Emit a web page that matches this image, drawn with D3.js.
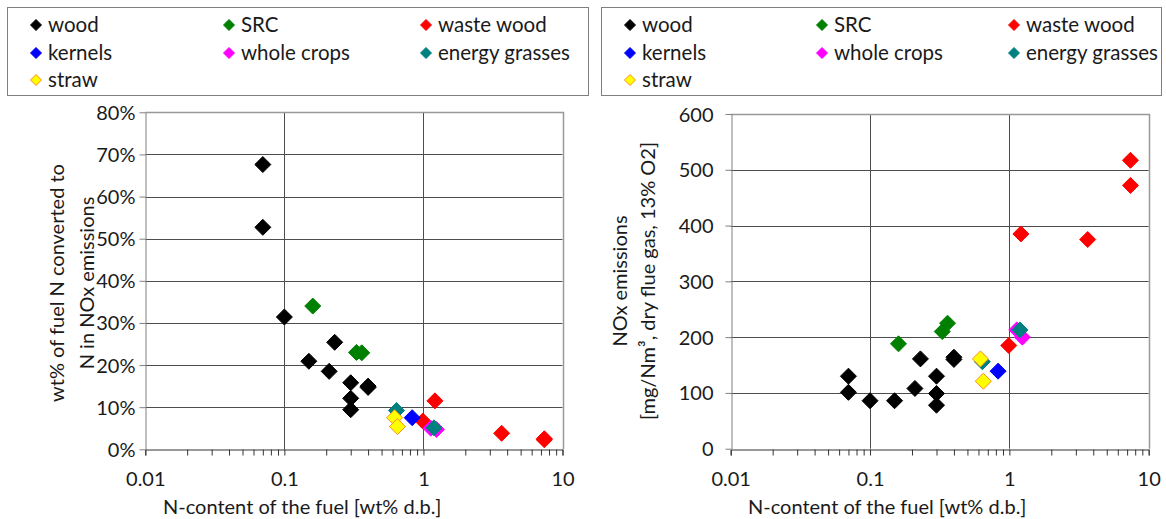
<!DOCTYPE html>
<html><head><meta charset="utf-8">
<script src="https://cdn.jsdelivr.net/npm/d3@7/dist/d3.min.js"></script>
<style>body{margin:0;background:#fff}svg{display:block;font-family:Lato,"Open Sans",sans-serif}</style>
</head><body><svg id="c" width="1166" height="519"></svg>
<script>
// ---------- data ----------
const seriesNames = ["wood","SRC","waste wood","kernels","whole crops","energy grasses","straw"];
const seriesFill  = ["#000000","#008000","#ff0000","#0000ff","#ff00ff","#008080","#ffff00"];
const seriesStroke= ["#000000","#008000","#ff0000","#0000ff","#ff00ff","#008080","#ff8c1a"];

const woodN    = [0.07, 0.07, 0.1, 0.15, 0.21, 0.23, 0.3, 0.3, 0.3, 0.4, 0.4];
const woodConv = [67.6, 52.7, 31.4, 20.9, 18.5, 25.4, 15.8, 12.1, 9.4, 15.0, 14.7];
const woodNOx  = [130, 101, 86, 86, 108, 161, 130, 99, 78, 164, 160];

const srcN     = [0.16, 0.33, 0.36];
const srcConv  = [34.0, 23.0, 22.9];
const srcNOx   = [188, 210, 225];

const wasteN    = [0.99, 1.21, 3.65, 7.4, 7.4];
const wasteConv = [6.7, 11.5, 3.8, 2.5, 2.25];
const wasteNOx  = [185, 385, 375, 517, 472];

const kernelsN    = [0.83];
const kernelsConv = [7.5];
const kernelsNOx  = [139];

const wholeN    = [1.13, 1.24];
const wholeConv = [5.0, 4.7];
const wholeNOx  = [213, 200];

const grassN    = [0.64, 1.19];
const grassConv = [9.2, 5.1];
const grassNOx  = [156, 213];

const strawN    = [0.62, 0.65];
const strawConv = [7.5, 5.4];
const strawNOx  = [161, 121];

const xTicks = [0.01, 0.1, 1, 10];
const xTickLabels = ["0.01","0.1","1","10"];
const convTicks = [0,10,20,30,40,50,60,70,80];
const noxTicks  = [0,100,200,300,400,500,600];

const xTitle = "N-content of the fuel [wt% d.b.]";
const leftYTitle = ["wt% of fuel N converted to","N in NOx emissions"];
const rightYTitle = ["NOx emissions","[mg/Nm\u00B3, dry flue gas, 13% O2]"];

const allN = [woodN, srcN, wasteN, kernelsN, wholeN, grassN, strawN];
const allConv = [woodConv, srcConv, wasteConv, kernelsConv, wholeConv, grassConv, strawConv];
const allNOx = [woodNOx, srcNOx, wasteNOx, kernelsNOx, wholeNOx, grassNOx, strawNOx];

// ---------- drawing ----------
const svg = d3.select("#c");
const TXT = "#1a1a1a";
const FS = 20, FSL = 20.5;

function diamond(g, cx, cy, r, fill, stroke){
  g.append("path")
   .attr("d", `M${cx},${cy-r}L${cx+r},${cy}L${cx},${cy+r}L${cx-r},${cy}Z`)
   .attr("fill", fill).attr("stroke", stroke).attr("stroke-width", 1);
}

function legend(x0, y0, w, h, mx, tx){
  const g = svg.append("g");
  g.append("rect").attr("x", x0+0.5).attr("y", y0+0.5).attr("width", w).attr("height", h)
   .attr("fill","#fff").attr("stroke","#808080").attr("stroke-width",1);
  const rows = [25, 53, 80];
  seriesNames.forEach((n,i)=>{
    const col = i%3, row = Math.floor(i/3);
    diamond(g, mx[col], rows[row], 5.5, seriesFill[i], seriesStroke[i]);
    g.append("text").attr("x", tx[col]).attr("y", rows[row] + 7)
     .attr("font-size", FSL).attr("fill", TXT).text(n);
  });
}

function panel(o){
  const g = svg.append("g");
  const x = d3.scaleLog().domain([0.01, 10]).range([o.left, o.right]);
  const y = d3.scaleLinear().domain(o.yDomain).range([o.bottom, o.top]);

  // gridlines
  g.append("g").selectAll("line").data(o.yTicks.slice(1, -1)).join("line")
   .attr("x1", o.left).attr("x2", o.right)
   .attr("y1", d=>Math.round(y(d))+0.5).attr("y2", d=>Math.round(y(d))+0.5)
   .attr("stroke", "#4d4d4d").attr("stroke-width", 1);
  g.append("g").selectAll("line").data(xTicks.slice(1, -1)).join("line")
   .attr("y1", o.top).attr("y2", o.bottom)
   .attr("x1", d=>Math.round(x(d))+0.5).attr("x2", d=>Math.round(x(d))+0.5)
   .attr("stroke", "#4d4d4d").attr("stroke-width", 1);
  // border top/right
  g.append("path")
   .attr("d", `M${o.left},${Math.round(o.top)+0.5}H${Math.round(o.right)+0.5}V${o.bottom}`)
   .attr("fill","none").attr("stroke","#999").attr("stroke-width",1.5);

  // x axis
  const minor = [];
  for (let p=-2; p<1; p++) for (let m=1; m<10; m++) minor.push(m*Math.pow(10,p));
  minor.push(10);
  const xa = d3.axisBottom(x).tickValues(minor).tickSize(6)
    .tickFormat(d => { const i = xTicks.findIndex(t=>Math.abs(t-d)/t<1e-6); return i>=0 ? xTickLabels[i] : ""; });
  const gx = g.append("g").attr("transform", `translate(0,${Math.round(o.bottom)+0.5})`).call(xa);
  gx.select(".domain").attr("stroke","#333");
  gx.selectAll(".tick line").attr("stroke","#333");
  gx.selectAll("text").attr("font-size", FS).attr("fill", TXT).attr("font-family","Lato")
    .attr("dy", null).attr("y", 36);

  // y axis
  const ya = d3.axisLeft(y).tickValues(o.yTicks).tickSize(6).tickSizeOuter(0).tickFormat(o.fmt);
  const gy = g.append("g").attr("transform", `translate(${Math.round(o.left)+0.5},0)`).call(ya);
  gy.select(".domain").attr("stroke","#808080");
  gy.selectAll(".tick line").attr("stroke","#808080");
  gy.selectAll("text").attr("font-size", FS).attr("fill", TXT).attr("font-family","Lato")
    .attr("x", o.labelOff).attr("dy", null).attr("y", 7);

  // points
  allN.forEach((ns, si) => {
    const ys = o.values[si];
    ns.forEach((n, k) => diamond(g, x(n), y(ys[k]), 8, seriesFill[si], seriesStroke[si]));
  });

  // titles
  g.append("text").attr("x", o.xTitleX).attr("y", 514)
   .attr("font-size", FS).attr("fill", TXT).text(xTitle);
  o.yTitle.forEach((t, i) => {
    g.append("text").attr("transform", `translate(${o.yTitleX[i]},${o.yTitleY}) rotate(-90)`)
     .attr("text-anchor","middle").attr("dy","0.35em")
     .attr("font-size", FS).attr("fill", TXT).text(t);
  });
}

legend(7, 7, 581, 88, [36, 229, 426], [48, 241, 438]);
legend(601, 7, 560, 88, [630, 822, 1014], [642, 834, 1026]);

panel({left:145.3, right:562.5, top:112.3, bottom:449.3, yDomain:[0,80], yTicks:convTicks,
       fmt: d => d + "%", values: allConv, xTitleX: 163, labelOff: -10,
       yTitle: leftYTitle, yTitleX:[57, 87], yTitleY: 283});
panel({left:730.7, right:1148.7, top:114, bottom:448.7, yDomain:[0,600], yTicks:noxTicks,
       fmt: d => d, values: allNOx, xTitleX: 748, labelOff: -18,
       yTitle: rightYTitle, yTitleX:[620, 648], yTitleY: 281});
</script></body></html>
